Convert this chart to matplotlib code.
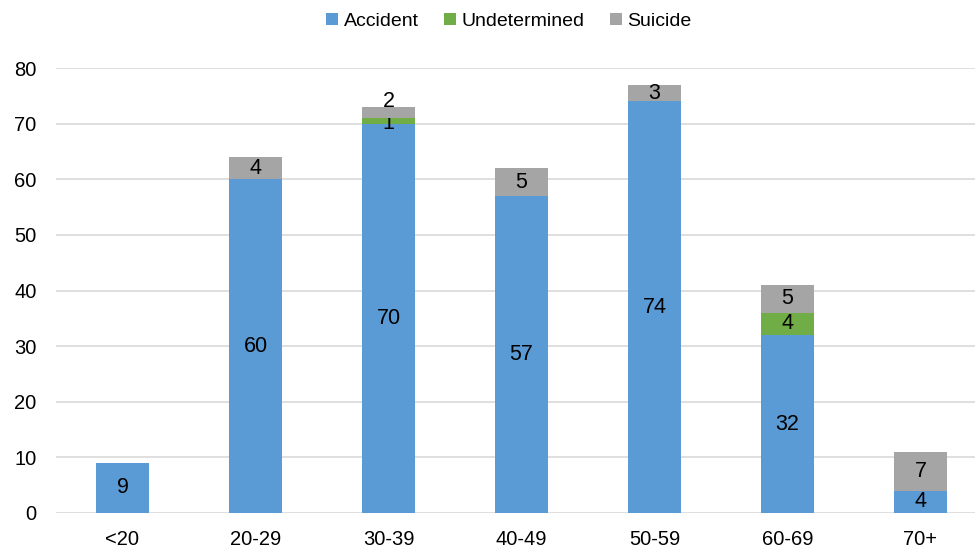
import numpy as np
import matplotlib.pyplot as plt

plt.rcParams['font.family'] = ['Liberation Sans', 'DejaVu Sans']

# Deaths by age group and manner
age_groups = ['<20', '20-29', '30-39', '40-49', '50-59', '60-69', '70+']
accident = [9, 60, 70, 57, 74, 32, 4]
undetermined = [0, 0, 1, 0, 0, 4, 0]
suicide = [0, 4, 2, 5, 3, 5, 7]

series = [('Accident', accident, '#5B9BD5'),
          ('Undetermined', undetermined, '#70AD47'),
          ('Suicide', suicide, '#A5A5A5')]

fig = plt.figure(figsize=(9.75, 5.51), dpi=100)
ax = fig.add_axes([56 / 975, 38 / 551, 931 / 975, 445 / 551])

x = np.arange(len(age_groups))
bottom = np.zeros(len(age_groups))
prev = np.zeros(len(age_groups))
for name, vals, color in series:
    vals = np.array(vals)
    bars = ax.bar(x, vals, 0.4, bottom=bottom, color=color, label=name, zorder=3)
    texts = ax.bar_label(bars, labels=[str(v) if v else '' for v in vals],
                         label_type='center', fontsize=15.5, color='black')
    # thin stacked segments: nudge labels apart so they don't collide
    for i, t in enumerate(texts):
        if 0 < vals[i] <= 2 and 0 < prev[i] <= 2:
            t.xyann = (0, 8)
        elif 0 < vals[i] <= 1:
            t.xyann = (0, -2)
    prev = vals
    bottom += vals

ax.set_xlim(-0.5, len(age_groups) - 0.5)
ax.set_ylim(0, 80)
ax.set_yticks(range(0, 81, 10))
ax.set_xticks(x)
ax.set_xticklabels(age_groups)
ax.tick_params(axis='both', length=0, labelsize=14.5, colors='black')
ax.tick_params(axis='y', pad=14)
ax.tick_params(axis='x', pad=12)
ax.grid(axis='y', color='#D9D9D9', linewidth=1.2, zorder=0)
for s in ax.spines.values():
    s.set_visible(False)

fig.legend(loc='upper center', bbox_to_anchor=(0.522, 1.008), ncol=3, frameon=False,
           fontsize=14, handlelength=0.6, handleheight=0.6, handletextpad=0.3,
           columnspacing=1.3)

fig.savefig('out.png', dpi=100)
